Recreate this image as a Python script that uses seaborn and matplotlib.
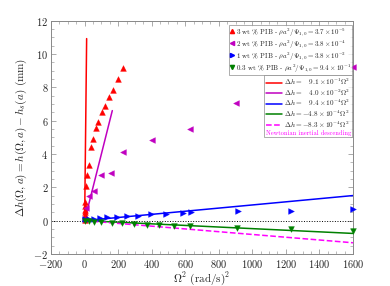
import numpy as np
import pandas as pd
import matplotlib
matplotlib.use("Agg")
import matplotlib.pyplot as plt
import seaborn as sns
from matplotlib.ticker import MultipleLocator
from matplotlib.lines import Line2D

# ---- data ----
# 3 wt % PIB
x_3 = [0.0, 0.1, 0.25, 0.5, 1.0, 2.0, 4, 10, 16, 26, 38, 50, 68, 82, 102, 124, 148, 172, 198, 227]
y_3 = [0.05, 0.2, 0.35, 0.5, 0.65, 0.85, 1.14, 2.1, 2.76, 3.36, 4.4, 4.9, 5.54, 5.9, 6.52, 6.88, 7.4, 7.84, 8.48, 9.18]
# 2 wt % PIB
x_2 = [9, 26, 56, 100, 158, 226, 401, 629, 904, 1600]
y_2 = [0.75, 1.46, 1.8, 2.72, 2.88, 4.12, 4.82, 5.5, 7.04, 9.24]
# 1 wt % PIB
x_1 = [4, 26, 56, 92, 136, 192, 251, 319, 395, 485, 585, 635, 914, 1233, 1600]
y_1 = [0.08, 0.1, 0.12, 0.16, 0.2, 0.23, 0.26, 0.3, 0.38, 0.42, 0.46, 0.54, 0.56, 0.6, 0.7]
# 0.3 wt % PIB
x_03 = [4, 26, 56, 100, 166, 225, 295, 371, 445, 535, 631, 910, 1229, 1600]
y_03 = [-0.02, -0.05, -0.06, -0.1, -0.14, -0.16, -0.2, -0.24, -0.26, -0.3, -0.3, -0.44, -0.5, -0.64]

# fitted slopes and the x range each fit line covers
slopes = [9.1e-1, 4.0e-2, 9.4e-4, -4.8e-4, -8.3e-4]
fit_xmax = [12, 165, 1600, 1600, 1600]
fit_labels = [r"$\Delta h =\ \ \ 9.1\times10^{-1}\Omega^2$",
              r"$\Delta h =\ \ \ 4.0\times10^{-2}\Omega^2$",
              r"$\Delta h =\ \ \ 9.4\times10^{-4}\Omega^2$",
              r"$\Delta h = -4.8\times10^{-4}\Omega^2$",
              r"$\Delta h = -8.3\times10^{-4}\Omega^2$"]
pt_labels = [r"3 wt % PIB - $\rho a^2/\Psi_{1,0} = 3.7\times10^{-5}$",
             r"2 wt % PIB - $\rho a^2/\Psi_{1,0} = 3.8\times10^{-4}$",
             r"1 wt % PIB - $\rho a^2/\Psi_{1,0} = 3.8\times10^{-2}$",
             r"0.3 wt % PIB - $\rho a^2/\Psi_{1,0} = 9.4\times10^{-1}$"]

pt_colors = ["#ff0000", "#c000c0", "#0000ff", "#008000"]
fit_colors = ["#ff0000", "#c000c0", "#0000ff", "#008000", "#ff00ff"]
markers = ["^", "<", ">", "v"]

sns.set_style("ticks")
plt.rcParams["font.family"] = "serif"
plt.rcParams["font.serif"] = ["cmr10"]
plt.rcParams["mathtext.fontset"] = "cm"
plt.rcParams["axes.unicode_minus"] = False
plt.rcParams["axes.formatter.use_mathtext"] = True

fig = plt.figure(figsize=(3.9, 2.86), dpi=100)
ax = fig.add_axes([0.131, 0.112, 0.774, 0.816])

# fit lines
for k, (m, xm, c) in enumerate(zip(slopes, fit_xmax, fit_colors)):
    xx = np.array([0, xm])
    sns.lineplot(x=xx, y=m * xx, ax=ax, color=c, lw=1.1,
                 linestyle="--" if k == 4 else "-", legend=False)

ax.axhline(0, color="k", ls=":", lw=0.7, zorder=1)

# data points
series = [(x_3, y_3), (x_2, y_2), (x_1, y_1), (x_03, y_03)]
for (xs, ys), c, mk in zip(series, pt_colors, markers):
    sns.scatterplot(x=xs, y=ys, ax=ax, color=c, marker=mk, s=17,
                    edgecolor=c, linewidth=0.3, legend=False, zorder=3,
                    clip_on=False)

ax.set_xlim(-200, 1600)
ax.set_ylim(-2, 12)
ax.xaxis.set_major_locator(MultipleLocator(200))
ax.xaxis.set_minor_locator(MultipleLocator(50))
ax.yaxis.set_major_locator(MultipleLocator(2))
ax.yaxis.set_minor_locator(MultipleLocator(0.5))
ax.tick_params(which="both", direction="in", top=True, right=True,
               labelsize=7.5, color="#888888", pad=2)
ax.tick_params(axis="x", which="major", pad=3)
ax.tick_params(which="major", length=3.5, width=0.5)
ax.tick_params(which="minor", length=2, width=0.4)
for sp in ax.spines.values():
    sp.set_color("#888888")
    sp.set_linewidth(0.7)

ax.set_xlabel(r"$\Omega^2$ (rad/s)$^2$", fontsize=8, labelpad=0)
ax.set_ylabel(r"$\Delta h(\Omega,a) = h(\Omega,a) - h_s(a)$ (mm)", fontsize=8, labelpad=3)

# legend of the data series
h1 = [Line2D([], [], ls="none", marker=mk, color=c, markersize=3.0)
      for c, mk in zip(pt_colors, markers)]
leg1 = ax.legend(h1, pt_labels, loc="upper right", bbox_to_anchor=(1.0, 0.985),
                 fontsize=5.0, frameon=True, fancybox=False, edgecolor="#888888",
                 handlelength=0.5, handletextpad=0.25, borderpad=0.2,
                 labelspacing=0.05, borderaxespad=0.1)
leg1.get_frame().set_linewidth(0.6)
ax.add_artist(leg1)

# put the second legend right under the first one
fig.canvas.draw()
bb = leg1.get_window_extent().transformed(ax.transAxes.inverted())

# legend of the fits
h2 = [Line2D([], [], color=c, lw=1.1, ls="--" if k == 4 else "-")
      for k, c in enumerate(fit_colors)]
h2.append(Line2D([], [], ls="none"))
leg2 = ax.legend(h2, fit_labels + ["Newtonian inertial descending"],
                 loc="upper right", bbox_to_anchor=(bb.x1, bb.y0),
                 fontsize=5.2, frameon=True, fancybox=False, edgecolor="#888888",
                 handlelength=2.3, handletextpad=0.3, borderpad=0.2,
                 labelspacing=0.05, borderaxespad=0)
leg2.get_frame().set_linewidth(0.6)
txt = leg2.get_texts()[-1]
txt.set_color("#ff00ff")
txt.set_fontsize(4.6)
# drop the empty handle of the last row so the note starts at the left edge
row = leg2._legend_handle_box.get_children()[0].get_children()[-1]
row._children = row._children[1:]

fig.savefig("out.png", dpi=100)
